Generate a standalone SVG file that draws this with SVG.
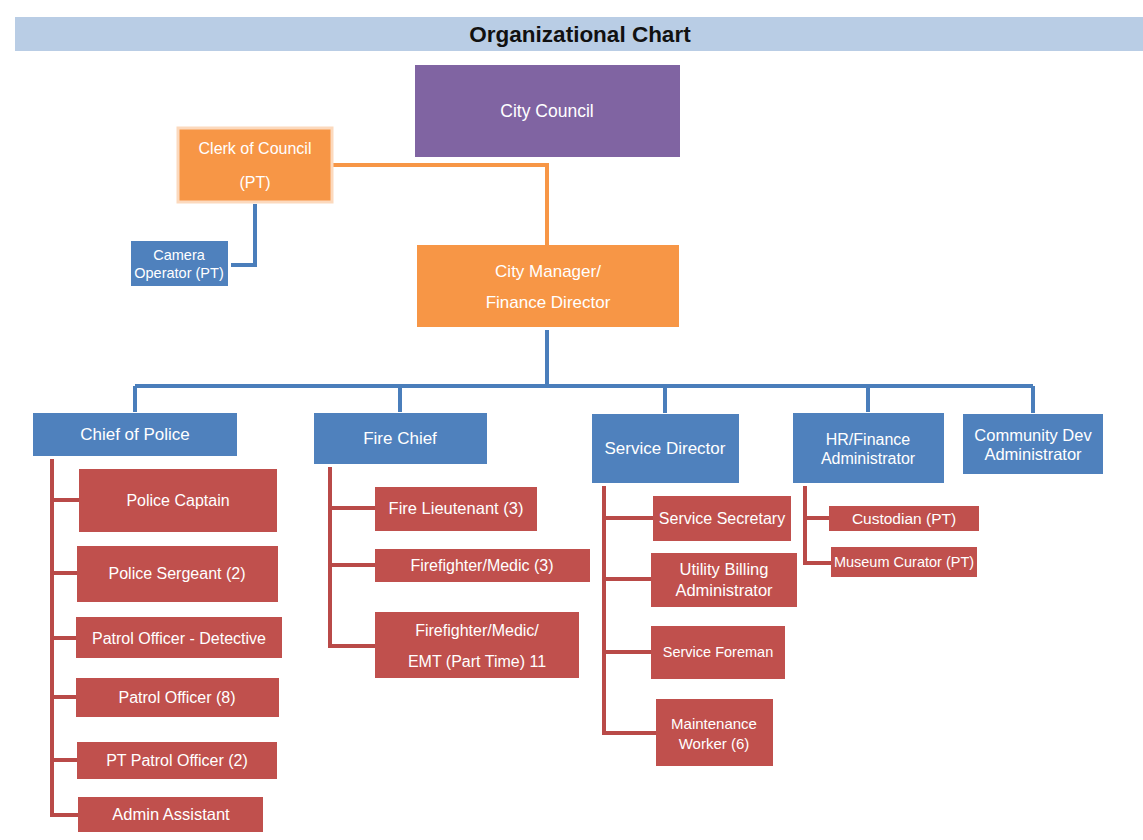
<svg xmlns="http://www.w3.org/2000/svg" width="1143" height="840" viewBox="0 0 1143 840">
<style>
text{font-family:"Liberation Sans",Arial,sans-serif;fill:#fff;text-anchor:middle;dominant-baseline:central}
.blue{fill:#4f81bd}
.red{fill:#c0504d}
.orange{fill:#f79646}
.purple{fill:#8064a2}
.cb{fill:none;stroke:#4a7ebb;stroke-width:4}
.co{fill:none;stroke:#f79646;stroke-width:4}
.cr{fill:none;stroke:#b94a48;stroke-width:4}
</style>
<rect width="1143" height="840" fill="#fff"/>
<g id="title">
<rect x="15" y="17" width="1128" height="34" fill="#b9cde5"/>
<text x="580" y="34" style="fill:#111;font-weight:bold;font-size:22.5px">Organizational Chart</text>
</g>
<g id="connectors">
<path class="co" d="M333 165H547V245"/>
<path class="cb" d="M255 204V265H231"/>
<path class="cb" d="M547 330V386"/>
<path class="cb" d="M135 386H1033M135 386V412M400 386V412M665 386V413M868 386V412M1033 386V413"/>
<path class="cr" d="M52 459V815H78M52 500H79M52 573H77M52 638H76M52 697H76M52 760H77"/>
<path class="cr" d="M330 467V646H375M330 508H375M330 565H375"/>
<path class="cr" d="M604 486V733H656M604 518H653M604 579H651M604 652H651"/>
<path class="cr" d="M805 486V563H831M805 518H829"/>
</g>
<g id="city-council"><rect class="purple" x="415" y="65" width="265" height="92"/><text x="547" y="111" font-size="17.5">City Council</text></g>
<g id="clerk"><rect class="orange" x="178" y="128" width="154" height="74" stroke="#fcd9bd" stroke-width="3"/><text x="255" y="148" font-size="16">Clerk of Council</text><text x="255" y="182" font-size="16">(PT)</text></g>
<g id="camera"><rect class="blue" x="131" y="241" width="97" height="45"/><text x="179" y="255" font-size="14.5">Camera</text><text x="179" y="273" font-size="14.5">Operator (PT)</text></g>
<g id="city-manager"><rect class="orange" x="417" y="245" width="262" height="82"/><text x="548" y="271" font-size="17">City Manager/</text><text x="548" y="302" font-size="17">Finance Director</text></g>
<g id="chief-police"><rect class="blue" x="33" y="413" width="204" height="43"/><text x="135" y="434" font-size="17">Chief of Police</text></g>
<g id="fire-chief"><rect class="blue" x="314" y="413" width="173" height="51"/><text x="400" y="438" font-size="17">Fire Chief</text></g>
<g id="service-director"><rect class="blue" x="592" y="414" width="147" height="69"/><text x="665" y="448" font-size="17">Service Director</text></g>
<g id="hr-finance"><rect class="blue" x="793" y="413" width="151" height="70"/><text x="868" y="439" font-size="16">HR/Finance</text><text x="868" y="458" font-size="16">Administrator</text></g>
<g id="community-dev"><rect class="blue" x="963" y="414" width="140" height="60"/><text x="1033" y="435" font-size="16.5">Community Dev</text><text x="1033" y="454" font-size="16.5">Administrator</text></g>
<g id="police-captain"><rect class="red" x="79" y="469" width="198" height="63"/><text x="178" y="500" font-size="16">Police Captain</text></g>
<g id="police-sergeant"><rect class="red" x="77" y="546" width="201" height="56"/><text x="177" y="573" font-size="16">Police Sergeant (2)</text></g>
<g id="patrol-detective"><rect class="red" x="76" y="617" width="206" height="41"/><text x="179" y="638" font-size="16">Patrol Officer - Detective</text></g>
<g id="patrol-officer"><rect class="red" x="76" y="678" width="203" height="39"/><text x="177" y="697" font-size="16">Patrol Officer (8)</text></g>
<g id="pt-patrol"><rect class="red" x="77" y="742" width="200" height="37"/><text x="177" y="760" font-size="16">PT Patrol Officer (2)</text></g>
<g id="admin-assistant"><rect class="red" x="78" y="797" width="185" height="35"/><text x="171" y="814" font-size="16.5">Admin Assistant</text></g>
<g id="fire-lieutenant"><rect class="red" x="375" y="487" width="162" height="44"/><text x="456" y="508" font-size="16.5">Fire Lieutenant (3)</text></g>
<g id="firefighter-medic"><rect class="red" x="375" y="549" width="215" height="33"/><text x="482" y="565" font-size="16">Firefighter/Medic (3)</text></g>
<g id="firefighter-emt"><rect class="red" x="375" y="612" width="204" height="66"/><text x="477" y="630" font-size="16">Firefighter/Medic/</text><text x="477" y="661" font-size="16">EMT (Part Time) 11</text></g>
<g id="service-secretary"><rect class="red" x="653" y="496" width="138" height="45"/><text x="722" y="518" font-size="16">Service Secretary</text></g>
<g id="utility-billing"><rect class="red" x="651" y="553" width="146" height="54"/><text x="724" y="569" font-size="16.5">Utility Billing</text><text x="724" y="590" font-size="16.5">Administrator</text></g>
<g id="service-foreman"><rect class="red" x="651" y="626" width="134" height="53"/><text x="718" y="652" font-size="14.5">Service Foreman</text></g>
<g id="maintenance-worker"><rect class="red" x="656" y="699" width="117" height="67"/><text x="714" y="723" font-size="15">Maintenance</text><text x="714" y="743" font-size="15">Worker (6)</text></g>
<g id="custodian"><rect class="red" x="829" y="506" width="150" height="25"/><text x="904" y="518" font-size="15.5">Custodian (PT)</text></g>
<g id="museum-curator"><rect class="red" x="831" y="547" width="146" height="30"/><text x="904" y="562" font-size="14.5">Museum Curator (PT)</text></g>
</svg>
